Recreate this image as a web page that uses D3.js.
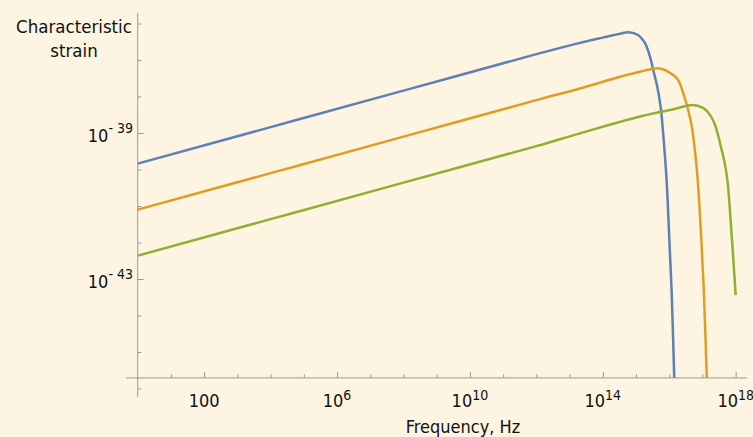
<!DOCTYPE html>
<html>
<head>
<meta charset="utf-8">
<script src="https://cdn.jsdelivr.net/npm/d3@7"></script>
<style>
  body { margin: 0; background: #fdf4e1; }
  text { font-family: "DejaVu Sans Condensed", "DejaVu Sans", sans-serif; fill: #111; }
</style>
</head>
<body>
<div id="chart"></div>
<script>
// values, as exponents: log10(frequency in Hz) and log10(strain)
const blueLogF = [0, 4, 8, 12, 13.31, 13.92, 14.52, 14.77, 15.07, 15.27, 15.42, 15.54, 15.64, 15.74, 15.80, 15.92, 15.99, 16.07, 16.15, 16.18];
const blueLogH = [-39.84, -38.84, -37.84, -36.84, -36.53, -36.40, -36.28, -36.24, -36.32, -36.54, -36.91, -37.36, -37.73, -38.28, -38.83, -40.29, -41.66, -43.30, -45.71, -46.5];

const orangeLogF = [0, 4, 8, 12, 13.31, 14.52, 15.12, 15.72, 16.12, 16.27, 16.42, 16.57, 16.68, 16.76, 16.85, 16.95, 17.04, 17.13, 17.16];
const orangeLogH = [-41.10, -40.10, -39.10, -38.10, -37.78, -37.46, -37.32, -37.23, -37.41, -37.55, -37.91, -38.37, -38.83, -39.38, -40.20, -41.66, -43.30, -45.71, -46.5];

const greenLogF = [0, 4, 8, 12, 13.31, 15.12, 16.12, 16.72, 17.03, 17.23, 17.38, 17.48, 17.58, 17.65, 17.75, 17.86, 18.0];
const greenLogH = [-42.36, -41.36, -40.36, -39.36, -39.01, -38.55, -38.35, -38.23, -38.32, -38.51, -38.78, -39.10, -39.47, -39.74, -40.29, -41.56, -43.44];

const seriesColors = ["#5e81b5", "#e19c24", "#8fb032"];

// tick exponents
const xMajorExp = [2, 6, 10, 14, 18];
const yMajorExp = [-39, -43];

const width = 753, height = 437;
const axisColor = "#999";

var svg = d3.select("#chart").append("svg")
  .attr("width", width)
  .attr("height", height);

svg.append("rect").attr("width", width).attr("height", height).attr("fill", "#fdf4e1");

// log scales
var x = d3.scaleLog().domain([1, 1e18]).range([137.7, 735.7]);
var y = d3.scaleLog().domain([1e-39, 1e-43]).range([133, 279]);

var axisY = y(Math.pow(10, -45.71)); // height of the frequency axis
var axisX = x(1);

// x ticks (minor every decade, major with labels)
var xMinor = d3.range(1, 18).filter(function (e) { return xMajorExp.indexOf(e) < 0; })
  .map(function (e) { return Math.pow(10, e); });
var xMajor = xMajorExp.map(function (e) { return Math.pow(10, e); });

svg.append("g")
  .attr("transform", "translate(0," + axisY + ")")
  .call(d3.axisBottom(x).tickValues(xMinor).tickSize(-3.5).tickFormat(""));

svg.append("g")
  .attr("transform", "translate(0," + axisY + ")")
  .call(d3.axisBottom(x).tickValues(xMajor).tickSize(-6).tickFormat(""));

// y ticks
var yMinor = d3.range(-46, -35).filter(function (e) { return yMajorExp.indexOf(e) < 0; })
  .map(function (e) { return Math.pow(10, e); });
var yMajor = yMajorExp.map(function (e) { return Math.pow(10, e); });

svg.append("g")
  .attr("transform", "translate(" + axisX + ",0)")
  .call(d3.axisLeft(y).tickValues(yMinor).tickSize(-3.5).tickFormat(""));

svg.append("g")
  .attr("transform", "translate(" + axisX + ",0)")
  .call(d3.axisLeft(y).tickValues(yMajor).tickSize(-6).tickFormat(""));

svg.selectAll(".domain").remove();
svg.selectAll(".tick line").attr("stroke", axisColor);

// axis lines, running a little past the plot like Mathematica draws them
svg.append("line")
  .attr("x1", x(Math.pow(10, -0.35))).attr("x2", x(Math.pow(10, 18.34)))
  .attr("y1", axisY).attr("y2", axisY)
  .attr("stroke", axisColor);

svg.append("line")
  .attr("x1", axisX).attr("x2", axisX)
  .attr("y1", y(Math.pow(10, -35.71))).attr("y2", y(Math.pow(10, -46.23)))
  .attr("stroke", axisColor);

// tick labels with superscripts
xMajorExp.forEach(function (e) {
  var t = svg.append("text")
    .attr("x", x(Math.pow(10, e)))
    .attr("y", 406.7)
    .attr("text-anchor", "middle")
    .style("font-size", "18px");
  if (e === 2) {
    t.text("100");
  } else {
    t.append("tspan").text("10");
    t.append("tspan").attr("dy", -7).style("font-size", "14px").text(e);
  }
});

yMajorExp.forEach(function (e) {
  var t = svg.append("text")
    .attr("x", 133)
    .attr("y", y(Math.pow(10, e)) + 8.7)
    .attr("text-anchor", "end")
    .style("font-size", "18px");
  t.append("tspan").text("10");
  t.append("tspan").attr("dy", -8.4).style("font-size", "14px").text("- " + Math.abs(e));
});

// axis titles
svg.append("text").attr("x", 74).attr("y", 33.3).attr("text-anchor", "middle")
  .style("font-size", "18.5px").text("Characteristic");
svg.append("text").attr("x", 74).attr("y", 57).attr("text-anchor", "middle")
  .style("font-size", "18.5px").text("strain");
svg.append("text").attr("x", 463).attr("y", 433).attr("text-anchor", "middle")
  .style("font-size", "18px").text("Frequency, Hz");

// clip curves at the axes
svg.append("clipPath").attr("id", "plotClip")
  .append("rect")
  .attr("x", axisX).attr("y", 0)
  .attr("width", width - axisX).attr("height", axisY);

var series = [
  { f: blueLogF, h: blueLogH },
  { f: orangeLogF, h: orangeLogH },
  { f: greenLogF, h: greenLogH }
];

var line = d3.line()
  .x(function (d) { return x(Math.pow(10, d[0])); })
  .y(function (d) { return y(Math.pow(10, d[1])); })
  .curve(d3.curveCatmullRom.alpha(0.5));

svg.append("g")
  .attr("clip-path", "url(#plotClip)")
  .selectAll("path")
  .data(series)
  .enter()
  .append("path")
  .attr("d", function (s) { return line(d3.zip(s.f, s.h)); })
  .attr("fill", "none")
  .attr("stroke", function (s, i) { return seriesColors[i]; })
  .attr("stroke-width", 2.5)
  .attr("stroke-linejoin", "round");
</script>
</body>
</html>
